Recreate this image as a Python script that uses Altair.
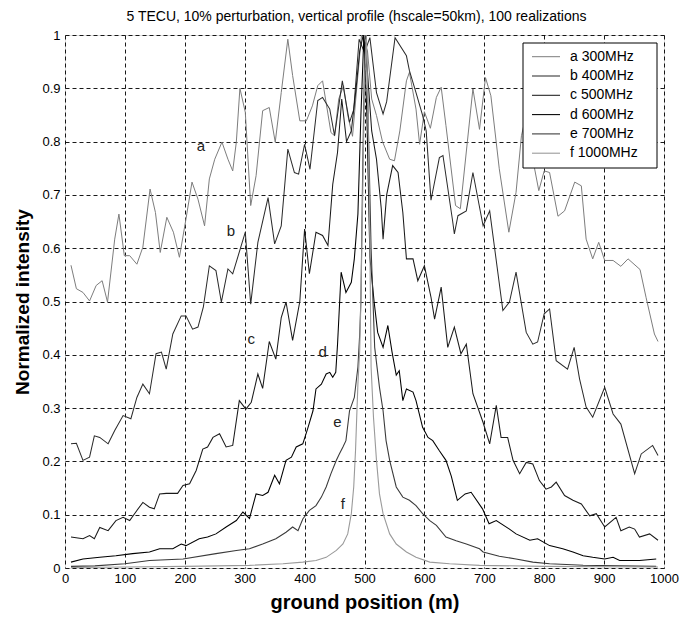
import altair as alt
import pandas as pd

# ---------------- data ----------------
a_x = [10, 19, 30, 41, 52, 62, 71, 83, 90, 99, 108, 120, 130, 142, 151, 159, 170, 181, 191, 202,
       212, 222, 233, 241, 250, 262, 272, 280, 286, 292, 301, 310, 319, 330, 341, 351, 361, 372, 380, 392,
       403, 413, 422, 430, 444, 450, 457, 465, 472, 480, 487, 495, 505, 512, 520, 530, 542, 550, 559, 570,
       575, 586, 592, 600, 610, 620, 628, 636, 652, 660, 681, 692, 702, 711, 725, 741, 753, 762, 770, 777,
       784, 791, 800, 809, 823, 834, 851, 862, 870, 881, 891, 901, 915, 928, 940, 960, 970, 984, 990]
a_y = [0.568, 0.524, 0.517, 0.501, 0.530, 0.539, 0.499, 0.617, 0.664, 0.586, 0.586, 0.570, 0.602, 0.711, 0.667,
       0.592, 0.658, 0.630, 0.583, 0.655, 0.724, 0.692, 0.642, 0.730, 0.767, 0.799, 0.767, 0.745, 0.799, 0.900,
       0.855, 0.680, 0.736, 0.858, 0.864, 0.799, 0.892, 0.992, 0.924, 0.839, 0.839, 0.867, 0.905, 0.914, 0.817,
       0.811, 0.880, 0.905, 0.850, 0.810, 0.900, 1.000, 0.970, 0.880, 0.849, 0.800, 0.767, 0.764, 0.820, 0.914,
       0.930, 0.861, 0.795, 0.856, 0.825, 0.883, 0.902, 0.830, 0.680, 0.674, 0.899, 0.823, 0.920, 0.886, 0.749,
       0.630, 0.705, 0.811, 0.850, 0.800, 0.749, 0.708, 0.745, 0.742, 0.660, 0.670, 0.724, 0.717, 0.617, 0.580,
       0.611, 0.577, 0.577, 0.566, 0.580, 0.560, 0.508, 0.439, 0.425]

b_x = [10, 19, 30, 41, 49, 58, 72, 83, 97, 110, 120, 130, 141, 152, 161, 169, 180, 194, 202, 213,
       222, 231, 241, 252, 261, 272, 280, 301, 310, 322, 339, 350, 361, 372, 383, 390, 400, 409, 422, 430,
       442, 450, 463, 469, 475, 482, 491, 500, 509, 520, 531, 537, 551, 570, 575, 586, 597, 603, 611, 625,
       631, 647, 650, 656, 670, 681, 698, 709, 731, 742, 753, 770, 781, 789, 800, 809, 820, 839, 850, 859,
       870, 881, 901, 915, 928, 951, 962, 981, 990]
b_y = [0.233, 0.234, 0.202, 0.208, 0.248, 0.245, 0.233, 0.258, 0.286, 0.280, 0.320, 0.345, 0.327, 0.402, 0.405,
       0.373, 0.439, 0.473, 0.473, 0.448, 0.452, 0.490, 0.567, 0.558, 0.499, 0.561, 0.552, 0.630, 0.495, 0.611,
       0.695, 0.608, 0.642, 0.786, 0.742, 0.739, 0.795, 0.748, 0.877, 0.883, 0.861, 0.811, 0.914, 0.874, 0.836,
       0.860, 0.992, 0.967, 0.995, 0.892, 0.852, 0.875, 0.995, 0.961, 0.933, 0.892, 0.849, 0.820, 0.690, 0.770,
       0.774, 0.652, 0.627, 0.661, 0.670, 0.742, 0.642, 0.670, 0.483, 0.499, 0.555, 0.442, 0.420, 0.424, 0.477,
       0.486, 0.389, 0.373, 0.414, 0.355, 0.302, 0.283, 0.339, 0.289, 0.270, 0.177, 0.214, 0.230, 0.211]

c_x = [10, 30, 41, 49, 58, 72, 85, 97, 108, 120, 130, 141, 149, 158, 169, 188, 197, 208, 219, 230,
       238, 247, 258, 269, 280, 291, 302, 311, 322, 330, 341, 352, 361, 369, 380, 392, 400, 408, 419, 430,
       439, 447, 455, 462, 470, 478, 486, 492, 498, 505, 512, 520, 528, 531, 537, 547, 556, 564, 570, 581,
       589, 600, 611, 617, 628, 639, 650, 661, 670, 681, 698, 709, 720, 728, 739, 748, 759, 770, 781, 792,
       803, 812, 820, 834, 848, 862, 876, 887, 901, 920, 928, 942, 951, 959, 976, 990]
c_y = [0.058, 0.055, 0.061, 0.055, 0.076, 0.070, 0.089, 0.095, 0.089, 0.108, 0.123, 0.114, 0.111, 0.139, 0.140,
       0.140, 0.155, 0.158, 0.183, 0.223, 0.227, 0.245, 0.252, 0.227, 0.230, 0.314, 0.298, 0.311, 0.364, 0.337,
       0.425, 0.392, 0.470, 0.499, 0.427, 0.500, 0.636, 0.552, 0.630, 0.624, 0.605, 0.720, 0.780, 0.880, 0.800,
       0.820, 0.900, 0.970, 1.000, 0.930, 0.820, 0.767, 0.674, 0.617, 0.700, 0.755, 0.742, 0.667, 0.580, 0.580,
       0.539, 0.567, 0.508, 0.467, 0.527, 0.414, 0.452, 0.402, 0.420, 0.327, 0.273, 0.233, 0.305, 0.245, 0.245,
       0.202, 0.177, 0.198, 0.195, 0.164, 0.148, 0.152, 0.161, 0.136, 0.127, 0.120, 0.098, 0.102, 0.077, 0.095,
       0.070, 0.077, 0.073, 0.058, 0.064, 0.052]

d_x = [10, 30, 58, 85, 113, 141, 158, 180, 194, 202, 224, 238, 252, 269, 286, 297, 308, 319, 330, 339,
       350, 358, 369, 378, 386, 397, 405, 414, 419, 428, 436, 442, 447, 452, 455, 461, 469, 478, 483, 489,
       494, 499, 504, 509, 516, 522, 531, 539, 546, 553, 558, 564, 570, 581, 586, 597, 606, 614, 625, 636,
       645, 655, 668, 678, 697, 708, 720, 742, 753, 776, 789, 809, 831, 848, 865, 881, 901, 915, 926, 959, 987]
d_y = [0.011, 0.017, 0.020, 0.023, 0.027, 0.030, 0.036, 0.036, 0.045, 0.042, 0.055, 0.058, 0.064, 0.077, 0.089,
       0.105, 0.093, 0.139, 0.136, 0.142, 0.174, 0.158, 0.202, 0.208, 0.227, 0.233, 0.261, 0.295, 0.336, 0.345,
       0.364, 0.367, 0.358, 0.367, 0.420, 0.555, 0.517, 0.536, 0.580, 0.664, 0.850, 1.000, 0.850, 0.583, 0.500,
       0.442, 0.414, 0.455, 0.405, 0.362, 0.370, 0.314, 0.336, 0.330, 0.314, 0.264, 0.245, 0.239, 0.220, 0.202,
       0.172, 0.127, 0.139, 0.142, 0.111, 0.083, 0.089, 0.073, 0.064, 0.052, 0.055, 0.042, 0.036, 0.030, 0.023,
       0.020, 0.017, 0.020, 0.014, 0.014, 0.017]

e_x = [10, 50, 100, 141, 197, 252, 286, 308, 330, 352, 369, 380, 389, 397, 408, 419, 428, 436, 444, 453,
       458, 464, 469, 475, 483, 489, 492, 494, 497, 500, 503, 507, 511, 517, 525, 531, 536, 542, 553, 564,
       575, 586, 597, 609, 620, 636, 653, 670, 692, 698, 725, 753, 781, 809, 865, 987]
e_y = [0.003, 0.004, 0.008, 0.014, 0.017, 0.027, 0.033, 0.036, 0.045, 0.055, 0.067, 0.077, 0.070, 0.092, 0.108,
       0.117, 0.133, 0.152, 0.177, 0.202, 0.214, 0.227, 0.239, 0.295, 0.320, 0.377, 0.439, 0.502, 0.750, 0.950,
       1.000, 0.800, 0.600, 0.414, 0.339, 0.295, 0.239, 0.202, 0.152, 0.133, 0.127, 0.117, 0.102, 0.089, 0.080,
       0.058, 0.051, 0.045, 0.036, 0.030, 0.022, 0.017, 0.011, 0.008, 0.005, 0.003]

f_x = [10, 100, 200, 308, 364, 397, 419, 436, 453, 464, 472, 478, 482, 485, 487, 489, 492, 494, 497, 500,
       503, 506, 509, 511, 515, 520, 525, 531, 542, 553, 570, 586, 609, 642, 692, 800, 990]
f_y = [0.001, 0.002, 0.003, 0.005, 0.008, 0.011, 0.014, 0.020, 0.033, 0.045, 0.064, 0.102, 0.152, 0.220, 0.283,
       0.345, 0.408, 0.502, 0.700, 0.900, 1.000, 0.850, 0.600, 0.377, 0.283, 0.202, 0.139, 0.102, 0.064, 0.045,
       0.030, 0.020, 0.011, 0.008, 0.005, 0.003, 0.002]

series_names = ["a 300MHz", "b 400MHz", "c 500MHz", "d 600MHz", "e 700MHz", "f 1000MHz"]
series_x = [a_x, b_x, c_x, d_x, e_x, f_x]
series_y = [a_y, b_y, c_y, d_y, e_y, f_y]

curve_letters = ["a", "b", "c", "d", "e", "f"]
letter_x = [227, 277, 311, 430, 455, 464]
letter_y = [0.792, 0.633, 0.43, 0.405, 0.273, 0.12]

x_ticks = [0, 100, 200, 300, 400, 500, 600, 700, 800, 900, 1000]
y_ticks = [0, 0.1, 0.2, 0.3, 0.4, 0.5, 0.6, 0.7, 0.8, 0.9, 1]

title_text = "5 TECU, 10% perturbation, vertical profile (hscale=50km), 100 realizations"

# ---------------- styles ----------------
series_colors = ["#7d7d7d", "#2a2a2a", "#1a1a1a", "#000000", "#3a3a3a", "#9a9a9a"]
series_widths = [1.0, 1.1, 1.1, 1.3, 1.0, 1.0]
FONT = "Liberation Sans"
W, H = 599, 533

rows = []
for name, xs, ys in zip(series_names, series_x, series_y):
    for xv, yv in zip(xs, ys):
        rows.append({"x": xv, "y": yv, "series": name})
df = pd.DataFrame(rows)

color_scale = alt.Scale(domain=series_names, range=series_colors)
width_scale = alt.Scale(domain=series_names, range=series_widths)
x_scale = alt.Scale(domain=[0, 1000], nice=False, zero=False)
y_scale = alt.Scale(domain=[0, 1], nice=False)

lines = alt.Chart(df).mark_line(clip=True).encode(
    x=alt.X("x:Q", scale=x_scale,
            axis=alt.Axis(values=x_ticks, format="d", grid=True, gridColor="black", gridDash=[4, 3],
                          gridOpacity=0.9, domain=False, ticks=False, tickSize=0, labelFontSize=13,
                          labelFont=FONT, labelColor="black", labelPadding=4, labelFlush=False,
                          labelOverlap=False, title="ground position (m)", titleFontSize=20, titleFont=FONT,
                          titleFontWeight="bold", titleColor="black", titlePadding=7)),
    y=alt.Y("y:Q", scale=y_scale,
            axis=alt.Axis(values=y_ticks, format="~g", grid=True, gridColor="black", gridDash=[4, 3],
                          gridOpacity=0.9, domain=False, ticks=False, tickSize=0, labelFontSize=13,
                          labelFont=FONT, labelColor="black", labelPadding=5, labelFlush=False,
                          labelOverlap=False, title="Normalized intensity", titleFontSize=19,
                          titleFont=FONT, titleFontWeight="bold", titleColor="black", titlePadding=9)),
    color=alt.Color("series:N", scale=color_scale, legend=None),
    strokeWidth=alt.StrokeWidth("series:N", scale=width_scale, legend=None),
    detail="series:N",
)

letters_df = pd.DataFrame({"lx": letter_x, "ly": letter_y, "t": curve_letters})
letters = alt.Chart(letters_df).mark_text(fontSize=15, font=FONT, color="#222222").encode(
    x=alt.X("lx:Q", scale=x_scale), y=alt.Y("ly:Q", scale=y_scale), text="t:N")

# title as a text mark above the plot area
title = alt.Chart(pd.DataFrame({"t": [title_text]})).mark_text(
    fontSize=14, font=FONT, color="black", align="center", baseline="middle").encode(
    x=alt.value(W / 2 - 8), y=alt.value(-18), text="t:N")

# legend box (drawn on top of the curves)
box = alt.Chart(pd.DataFrame({"k": [0]})).mark_rect(fill="white", stroke="black", strokeWidth=1).encode(
    x=alt.value(458), x2=alt.value(592), y=alt.value(8), y2=alt.value(133))

leg_df = pd.DataFrame({"series": series_names, "row": list(range(len(series_names)))})
leg_base = alt.Chart(leg_df).transform_calculate(
    ly="1 - (21.7 + datum.row * 19.3) / %d" % H)
leg_lines = leg_base.mark_rule().encode(
    x=alt.value(467), x2=alt.value(495),
    y=alt.Y("ly:Q", scale=y_scale),
    color=alt.Color("series:N", scale=color_scale, legend=None),
    strokeWidth=alt.StrokeWidth("series:N", scale=width_scale, legend=None))
leg_text = leg_base.mark_text(align="left", baseline="middle", fontSize=14, font=FONT, color="black").encode(
    x=alt.value(505), y=alt.Y("ly:Q", scale=y_scale), text="series:N")

chart = alt.layer(lines, letters, title, box, leg_lines, leg_text).properties(
    width=W, height=H,
    autosize=alt.AutoSizeParams(type="none"),
    padding={"left": 65, "top": 35, "right": 29, "bottom": 54},
).configure_view(stroke="black", strokeWidth=1).configure(background="white")

chart.save("out.html", embed_options={"renderer": "svg", "actions": False})
